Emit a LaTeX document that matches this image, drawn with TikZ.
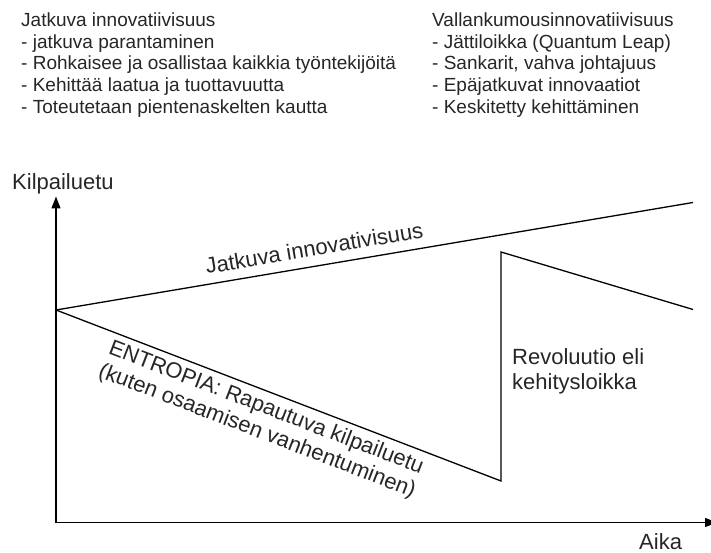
\documentclass[tikz,border=0pt]{standalone}
\usepackage{fontspec}
\setmainfont{Liberation Sans}
\usetikzlibrary{arrows.meta}
\begin{document}
\begin{tikzpicture}[x=1pt,y=1pt,
  curve/.style={line width=1.3pt, line join=miter},
  axisline/.style={line width=1.3pt,
    {Triangle[length=12pt,width=9pt]}-{Triangle[length=12pt,width=9pt]}},
  note/.style={anchor=north west, align=left, inner sep=0pt, text=black!85,
    font=\fontsize{19}{21.75}\selectfont},
  tag/.style={inner sep=0pt, text=black!85, font=\fontsize{22}{25}\selectfont}]
\useasboundingbox (0,0) rectangle (711,553);

% text blocks at the top
\node[note] (cont) at (21,540.5) {Jatkuva innovatiivisuus\\
  - jatkuva parantaminen\\
  - Rohkaisee ja osallistaa kaikkia työntekijöitä\\
  - Kehittää laatua ja tuottavuutta\\
  - Toteutetaan pientenaskelten kautta};
\node[note] (revo) at (432,540.5) {Vallankumousinnovatiivisuus\\
  - Jättiloikka (Quantum Leap)\\
  - Sankarit, vahva johtajuus\\
  - Epäjatkuvat innovaatiot\\
  - Keskitetty kehittäminen};

% axes
\coordinate (O) at (56,30.5);
\coordinate (ytip) at (56,356.5);
\coordinate (xtip) at (717,30.5);
\draw[axisline] (ytip) -- (O) -- (xtip);
\node[tag, anchor=base west] (ylab) at (12,363.5) {Kilpailuetu};
\node[tag, anchor=base west] (xlab) at (639,3) {Aika};

% curves
\coordinate (J0) at (56,243);
\coordinate (T) at (693,350.5);
\coordinate (B) at (501,72);
\coordinate (R) at (501,301);
\coordinate (E) at (693,243.5);
\draw[curve] (J0) -- (T);
\draw[curve] (J0) -- (B) -- (R) -- (E);

% labels along the curves
\path (J0) -- (T) node[tag, pos=0.41, sloped, above=10pt] (jl) {Jatkuva innovativisuus};
\path (J0) -- (B) node[tag, pos=0.485, sloped, below=6pt, align=center] (ent)
  {ENTROPIA: Rapautuva kilpailuetu\\(kuten osaamisen vanhentuminen)};
\node[tag, anchor=north west, align=left] (leap) at (512,205)
  {Revoluutio eli\\kehitysloikka};
\end{tikzpicture}
\end{document}
